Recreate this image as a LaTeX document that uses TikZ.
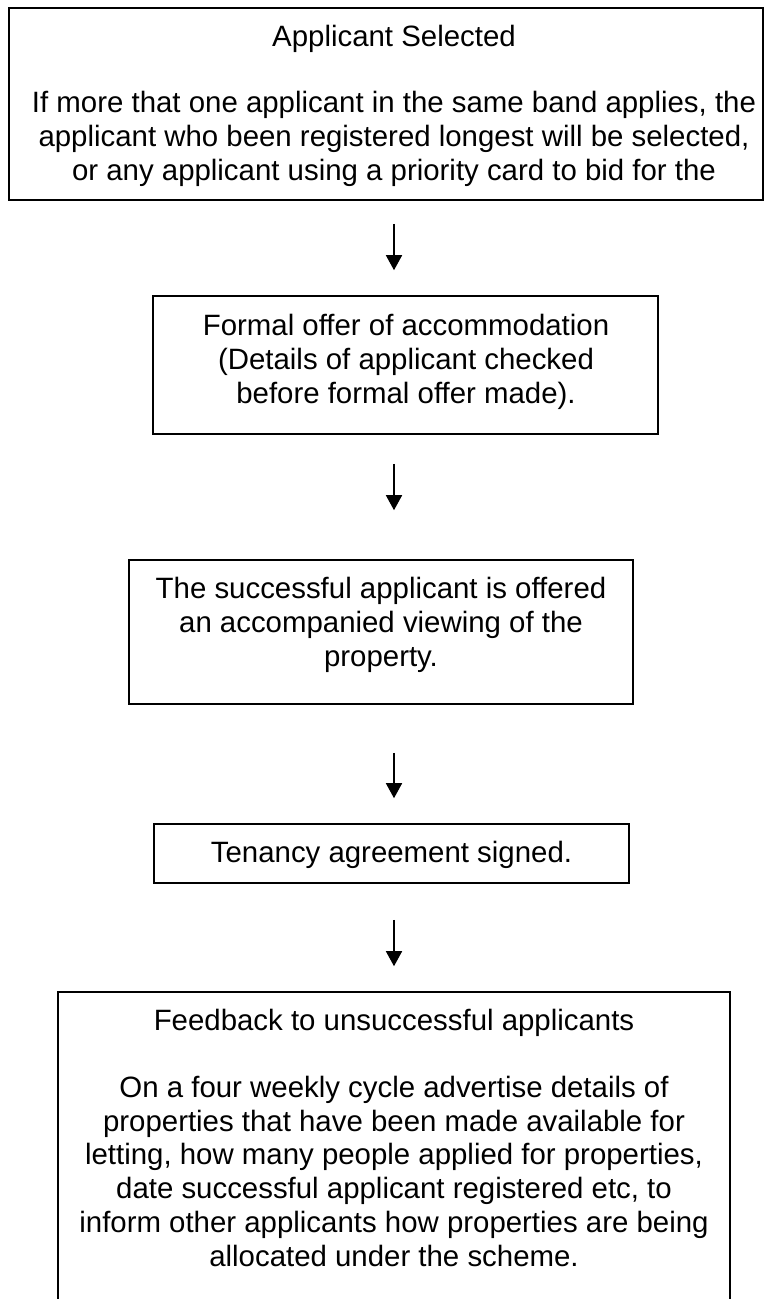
\documentclass[tikz,border=0pt]{standalone}
\usepackage{fontspec}
\setmainfont{Liberation Sans}
\usetikzlibrary{arrows.meta}
\begin{document}
\begin{tikzpicture}[x=1pt,y=-1pt,
  box/.style={draw, line width=1.6pt, rectangle, inner sep=0pt},
  txt/.style={anchor=north, align=center, inner sep=0pt, font=\fontsize{29.4}{33.8}\selectfont},
  arr/.style={line width=1.6pt, -{Triangle[width=16pt,length=15pt]}}]
\useasboundingbox (0,0) rectangle (765,1299);
\fill[white] (0,0) rectangle (765,1299);
\coordinate (ax) at (394,0);
% boxes
\node[box, minimum width=754pt, minimum height=192pt] (b1) at (386,104) {};
\node[box, minimum width=505pt, minimum height=138pt] (b2) at (405.5,365) {};
\node[box, minimum width=504pt, minimum height=144pt] (b3) at (381,632) {};
\node[box, minimum width=475pt, minimum height=59pt] (b4) at (391.5,853.5) {};
\node[box, minimum width=672pt, minimum height=348pt] (b5) at (394,1166) {};
% texts
\node[txt] (t1) at (394,24.5) {Applicant Selected\\[33pt]
If more that one applicant in the same band applies, the\\
applicant who been registered longest will be selected,\\
or any applicant using a priority card to bid for the};
\node[txt] (t2) at (406,314) {Formal offer of accommodation\\
(Details of applicant checked\\
before formal offer made).};
\node[txt] (t3) at (381,577) {The successful applicant is offered\\
an accompanied viewing of the\\
property.};
\node[txt] (t4) at (391.5,840.5) {Tenancy agreement signed.};
\node[txt] (t5) at (394,1009) {Feedback to unsuccessful applicants\\[33pt]
On a four weekly cycle advertise details of\\
properties that have been made available for\\
letting, how many people applied for properties,\\
date successful applicant registered etc, to\\
inform other applicants how properties are being\\
allocated under the scheme.};
% arrows
\draw[arr, shorten <=23pt, shorten >=25pt] (b1.south -| ax) -- (b2.north -| ax);
\draw[arr, shorten <=29pt, shorten >=49pt] (b2.south -| ax) -- (b3.north -| ax);
\draw[arr, shorten <=48pt, shorten >=25pt] (b3.south -| ax) -- (b4.north -| ax);
\draw[arr, shorten <=36pt, shorten >=25pt] (b4.south -| ax) -- (b5.north -| ax);
\end{tikzpicture}
\end{document}
